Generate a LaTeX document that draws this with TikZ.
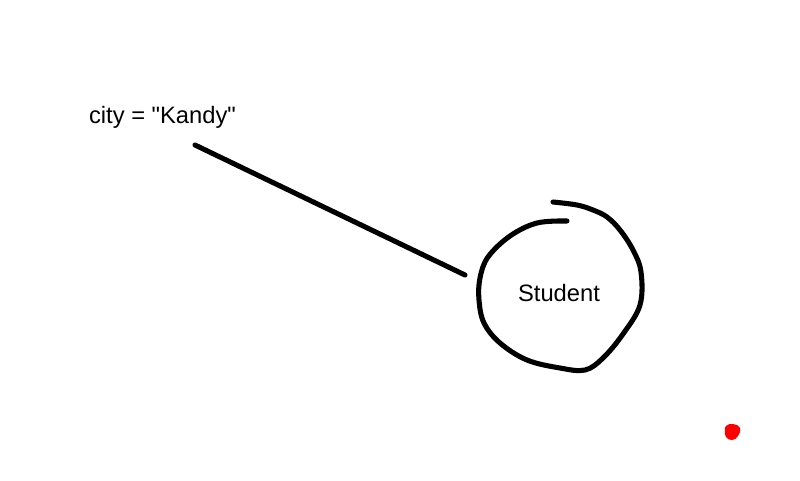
\documentclass[tikz,border=0pt]{standalone}
\usepackage{fontspec}
\setmainfont{Liberation Sans}
\definecolor{inkred}{rgb}{1,0,0}

\begin{document}
\begin{tikzpicture}[x=0.75pt,y=-0.75pt,line cap=round,line join=round]

\useasboundingbox (0,0) rectangle (800,480);

\tikzset{pen/.style={line width=3.8pt,black}}

\node (cityattr) at (162.5,117) {\fontsize{17.8}{21}\selectfont city = \textquotedbl Kandy\textquotedbl};
\node (student) at (559,293) {\fontsize{17.8}{21}\selectfont Student};

\coordinate (linestart) at (195,145);
\coordinate (lineend) at (465,275);
\draw[pen] (linestart) -- (lineend);

\draw[pen] plot[smooth,tension=0.6] coordinates {(567,221) (537,223) (510,236) (488,257) (480,278) (479,300) (484,323) (500,343) (527,360) (560,368) (585,370) (603,358) (623,334) (640,305) (641,272) (633,250) (620,230) (607,217) (593,210) (577,205) (553,202)};

\fill[inkred] plot[smooth cycle,tension=0.8] coordinates {(726,426) (733,424) (740,428) (738,436) (732,440) (726,437) (725,431)};

\end{tikzpicture}
\end{document}
